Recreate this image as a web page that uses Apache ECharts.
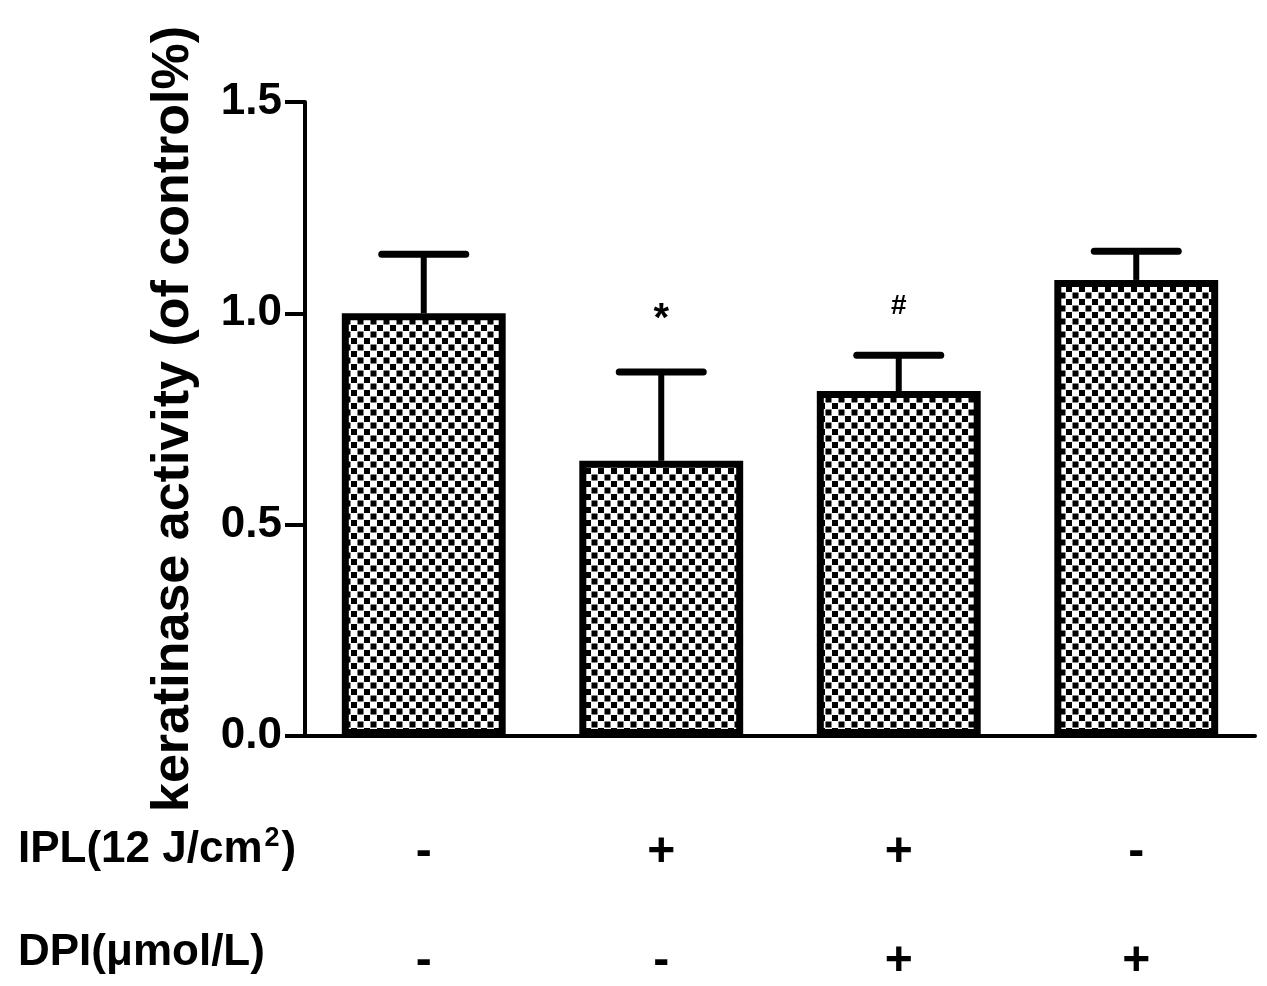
<!DOCTYPE html>
<html>
<head>
<meta charset="utf-8">
<title>keratinase activity</title>
<script src="https://cdn.jsdelivr.net/npm/echarts@6/dist/echarts.min.js"></script>
<style>
  html, body { margin: 0; padding: 0; background: #fff; }
  #chart { width: 1267px; height: 986px; }
</style>
</head>
<body>
<div id="chart"></div>
<script>
  // 数据
  var groups = ['g1', 'g2', 'g3', 'g4']
  var means = [1.0, 0.651, 0.816, 1.079]
  var sds = [0.14, 0.21, 0.085, 0.068]
  var marks = ['', '*', '#', '']
  var iplRow = ['-', '+', '+', '-']
  var dpiRow = ['-', '-', '+', '+']

  var FONT = 'Arial, "Liberation Sans", sans-serif'

  // 网点填充
  function makePattern() {
    var c = document.createElement('canvas')
    c.width = 13
    c.height = 13
    var ctx = c.getContext('2d')
    ctx.fillStyle = '#fff'
    ctx.fillRect(0, 0, 13, 13)
    ctx.fillStyle = '#000'
    ctx.fillRect(0, 0, 6, 6)
    ctx.fillRect(6.5, 6.5, 6, 6)
    return c
  }

  var chart = echarts.init(document.getElementById('chart'))

  var option = {
    backgroundColor: '#fff',
    animation: false,
    grid: {
      left: 305,
      right: 12,
      top: 102,
      bottom: 250,
      outerBoundsMode: 'none'
    },
    xAxis: {
      type: 'category',
      data: groups,
      axisLine: { lineStyle: { color: '#000', width: 4 } },
      axisTick: { alignWithLabel: true, length: 20, lineStyle: { color: '#000', width: 4 } },
      axisLabel: {
        margin: 62,
        interval: 0,
        formatter: function (v, i) {
          return '{s|' + iplRow[i] + '}\n{s|' + dpiRow[i] + '}'
        },
        rich: {
          s: { fontSize: 48, fontWeight: 'bold', fontFamily: FONT, color: '#000', lineHeight: 109 }
        }
      }
    },
    yAxis: {
      type: 'value',
      min: 0,
      max: 1.5,
      interval: 0.5,
      name: 'keratinase activity (of control%)',
      nameLocation: 'middle',
      nameRotate: 90,
      nameGap: 105,
      nameTextStyle: { fontSize: 52, fontWeight: 'bold', fontFamily: FONT, color: '#000' },
      splitLine: { show: false },
      axisLine: { show: true, lineStyle: { color: '#000', width: 4 } },
      axisTick: { show: true, length: 20, lineStyle: { color: '#000', width: 4 } },
      axisLabel: {
        margin: 23,
        fontSize: 44,
        fontWeight: 'bold',
        fontFamily: FONT,
        color: '#000',
        formatter: function (v) { return v.toFixed(1) }
      }
    },
    graphic: [
      {
        type: 'text',
        left: 18,
        top: 825,
        style: {
          text: '{a|IPL(12 J/cm}{b|2}{a|)}',
          rich: {
            a: { fontSize: 44, fontWeight: 'bold', fontFamily: FONT, fill: '#000', lineHeight: 50 },
            b: { fontSize: 27, fontWeight: 'bold', fontFamily: FONT, fill: '#000', lineHeight: 50, verticalAlign: 'top', padding: [0, 2, 20, 2] }
          }
        }
      },
      {
        type: 'text',
        left: 18,
        top: 931,
        style: {
          text: 'DPI(μmol/L)',
          fontSize: 44,
          fontWeight: 'bold',
          fontFamily: FONT,
          fill: '#000'
        }
      }
    ],
    series: [
      {
        type: 'bar',
        data: means,
        barWidth: '69%',
        itemStyle: {
          color: { image: makePattern(), repeat: 'repeat' },
          borderColor: '#000',
          borderWidth: 7
        },
        z: 2
      },
      {
        type: 'custom',
        z: 3,
        data: means.map(function (m, i) { return [i, m, sds[i]] }),
        renderItem: function (params, api) {
          var i = api.value(0)
          var base = api.coord([i, api.value(1)])
          var top = api.coord([i, api.value(1) + api.value(2)])
          var half = 42
          var children = [
            { type: 'line', shape: { x1: base[0], y1: base[1], x2: top[0], y2: top[1] }, style: { stroke: '#000', lineWidth: 6 } },
            { type: 'line', shape: { x1: top[0] - half, y1: top[1], x2: top[0] + half, y2: top[1] }, style: { stroke: '#000', lineWidth: 7, lineCap: 'round' } }
          ]
          var mk = marks[params.dataIndex]
          if (mk) {
            var star = mk === '*'
            children.push({
              type: 'text',
              x: top[0],
              y: top[1] - (star ? 52 : 49),
              style: {
                text: mk,
                fontSize: star ? 40 : 28,
                fontWeight: 'bold',
                fontFamily: FONT,
                fill: '#000',
                align: 'center',
                verticalAlign: 'middle'
              }
            })
          }
          return { type: 'group', children: children }
        }
      }
    ]
  }

  chart.setOption(option)
</script>
</body>
</html>
